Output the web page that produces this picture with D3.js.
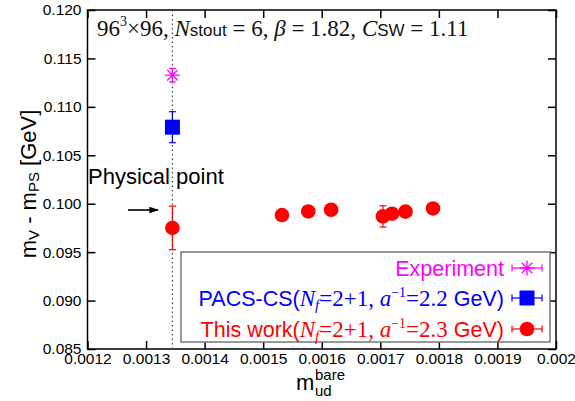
<!DOCTYPE html>
<html>
<head>
<meta charset="utf-8">
<script src="https://cdn.jsdelivr.net/npm/d3@7"></script>
<style>
  body { margin: 0; background: #fff; }
  svg { display: block; }
</style>
</head>
<body>
<div id="chart"></div>
<script>
// values
const thisWorkX = [0.001345, 0.001532, 0.001577, 0.001616, 0.0017045, 0.00172, 0.001743, 0.00179];
const thisWorkY = [0.0975, 0.09883, 0.0992, 0.09938, 0.09869, 0.09897, 0.09918, 0.09951];
const thisWorkErr = [0.00225, 0.0002, 0.0002, 0.0002, 0.0011, 0.0002, 0.0002, 0.0002];

const pacsX = [0.001345];
const pacsY = [0.1079];
const pacsErr = [0.0016];

const expX = [0.001345];
const expY = [0.11327];
const expErr = [0.0007];

const physicalPoint = 0.001345;

const xTicks = [0.0012, 0.0013, 0.0014, 0.0015, 0.0016, 0.0017, 0.0018, 0.0019, 0.002];
const xTickLabels = ["0.0012", "0.0013", "0.0014", "0.0015", "0.0016", "0.0017", "0.0018", "0.0019", "0.002"];
const yTicks = [0.085, 0.09, 0.095, 0.1, 0.105, 0.11, 0.115, 0.12];
const yTickLabels = ["0.085", "0.090", "0.095", "0.100", "0.105", "0.110", "0.115", "0.120"];

const SANS = "'Liberation Sans', Arial, sans-serif";
const SERIF = "'Liberation Serif', 'Times New Roman', serif";

const width = 575;
const height = 401;
const margin = { top: 10, right: 19, bottom: 52, left: 87.5 };

const svg = d3
  .select("#chart")
  .append("svg")
  .attr("width", width)
  .attr("height", height);

const x = d3.scaleLinear().domain([0.0012, 0.002]).range([margin.left, width - margin.right]);
const y = d3.scaleLinear().domain([0.085, 0.12]).range([height - margin.bottom, margin.top]);

const x0 = x.range()[0], x1 = x.range()[1];
const y0 = y.range()[0], y1 = y.range()[1];

// axes with inward ticks on all four sides
const tickLen = 8;
const bottomAxis = svg
  .append("g")
  .attr("transform", "translate(0," + y0 + ")")
  .call(d3.axisBottom(x).tickValues(xTicks).tickSizeInner(-tickLen).tickSizeOuter(0)
    .tickFormat((d, i) => xTickLabels[i]));
const topAxis = svg
  .append("g")
  .attr("transform", "translate(0," + y1 + ")")
  .call(d3.axisTop(x).tickValues(xTicks).tickSizeInner(-tickLen).tickSizeOuter(0).tickFormat(""));
const leftAxis = svg
  .append("g")
  .attr("transform", "translate(" + x0 + ",0)")
  .call(d3.axisLeft(y).tickValues(yTicks).tickSizeInner(-tickLen).tickSizeOuter(0)
    .tickFormat((d, i) => yTickLabels[i]));
const rightAxis = svg
  .append("g")
  .attr("transform", "translate(" + x1 + ",0)")
  .call(d3.axisRight(y).tickValues(yTicks).tickSizeInner(-tickLen).tickSizeOuter(0).tickFormat(""));

[bottomAxis, topAxis, leftAxis, rightAxis].forEach((g) => {
  g.select(".domain").remove();
  g.selectAll(".tick line").attr("stroke", "#000").attr("stroke-width", 1.5);
  g.selectAll(".tick text").attr("fill", "#000").style("font-family", SANS).style("font-size", "15.5px");
});
bottomAxis.selectAll(".tick text").attr("y", 4).attr("dy", "0.71em");
leftAxis.selectAll(".tick text").attr("x", -6);

// frame
svg
  .append("rect")
  .attr("x", x0)
  .attr("y", y1)
  .attr("width", x1 - x0)
  .attr("height", y0 - y1)
  .attr("fill", "none")
  .attr("stroke", "#000")
  .attr("stroke-width", 1.5);

// physical point dotted line
svg
  .append("line")
  .attr("x1", x(physicalPoint))
  .attr("x2", x(physicalPoint))
  .attr("y1", y1)
  .attr("y2", y0)
  .attr("stroke", "#444")
  .attr("stroke-width", 1.2)
  .attr("stroke-dasharray", "1.5,3");

// title line
const title = svg
  .append("text")
  .attr("x", 97)
  .attr("y", 36)
  .style("font-family", SERIF)
  .style("font-size", "23px")
  .attr("fill", "#111");
title.append("tspan").text("96");
title.append("tspan").attr("dy", -10).style("font-size", "14px").text("3");
title.append("tspan").attr("dy", 10).text("\u00d796, ");
title.append("tspan").style("font-style", "italic").text("N");
title.append("tspan").style("font-family", SANS).style("font-size", "17px").text("stout");
title.append("tspan").text(" = 6, ");
title.append("tspan").style("font-style", "italic").text("\u03b2");
title.append("tspan").text(" = 1.82, ");
title.append("tspan").style("font-style", "italic").text("C");
title.append("tspan").style("font-family", SANS).style("font-size", "17px").text("SW");
title.append("tspan").text(" = 1.11");

// "Physical point" annotation
svg
  .append("text")
  .attr("x", 88)
  .attr("y", 184)
  .style("font-family", SANS)
  .style("font-size", "22px")
  .attr("fill", "#000")
  .text("Physical point");

svg
  .append("defs")
  .append("marker")
  .attr("id", "arrow")
  .attr("viewBox", "0 0 10 10")
  .attr("refX", 9)
  .attr("refY", 5)
  .attr("markerWidth", 6)
  .attr("markerHeight", 6)
  .attr("orient", "auto")
  .append("path")
  .attr("d", "M0,1.5 L10,5 L0,8.5 Z")
  .attr("fill", "#000");
svg
  .append("line")
  .attr("x1", 128)
  .attr("x2", 158)
  .attr("y1", 210)
  .attr("y2", 210)
  .attr("stroke", "#000")
  .attr("stroke-width", 1.6)
  .attr("marker-end", "url(#arrow)");

// helpers
function errorBars(g, xs, ys, errs, color) {
  const cap = 3.5;
  xs.forEach((xv, i) => {
    const cx = x(xv);
    const top = y(ys[i] + errs[i]);
    const bot = y(ys[i] - errs[i]);
    g.append("line").attr("x1", cx).attr("x2", cx).attr("y1", top).attr("y2", bot)
      .attr("stroke", color).attr("stroke-width", 1.2);
    [top, bot].forEach((yy) => {
      g.append("line").attr("x1", cx - cap).attr("x2", cx + cap).attr("y1", yy).attr("y2", yy)
        .attr("stroke", color).attr("stroke-width", 1.2);
    });
  });
}

function starPath(r) {
  const d = r * Math.SQRT1_2;
  return "M" + -r + ",0L" + r + ",0M0," + -r + "L0," + r +
    "M" + -d + "," + -d + "L" + d + "," + d + "M" + -d + "," + d + "L" + d + "," + -d;
}

const marks = svg.append("g");

// experiment
errorBars(marks, expX, expY, expErr, "#ff00ff");
marks
  .selectAll(".exp")
  .data(expX)
  .enter()
  .append("path")
  .attr("class", "exp")
  .attr("transform", (d, i) => "translate(" + x(d) + "," + y(expY[i]) + ")")
  .attr("d", starPath(7.5))
  .attr("stroke", "#ff00ff")
  .attr("stroke-width", 1.3)
  .attr("fill", "none");

// PACS-CS
errorBars(marks, pacsX, pacsY, pacsErr, "#0000ff");
marks
  .selectAll(".pacs")
  .data(pacsX)
  .enter()
  .append("rect")
  .attr("class", "pacs")
  .attr("x", (d) => x(d) - 7.5)
  .attr("y", (d, i) => y(pacsY[i]) - 7.5)
  .attr("width", 15)
  .attr("height", 15)
  .attr("fill", "#0000ff");

// this work
errorBars(marks, thisWorkX, thisWorkY, thisWorkErr, "#ff0000");
marks
  .selectAll(".work")
  .data(thisWorkX)
  .enter()
  .append("circle")
  .attr("class", "work")
  .attr("cx", (d) => x(d))
  .attr("cy", (d, i) => y(thisWorkY[i]))
  .attr("r", 7.3)
  .attr("fill", "#ff0000");

// legend
const legend = svg.append("g");
legend
  .append("rect")
  .attr("x", 181)
  .attr("y", 252)
  .attr("width", 369)
  .attr("height", 90)
  .attr("fill", "#fff")
  .attr("stroke", "#777")
  .attr("stroke-width", 1.5);

const legendRows = [
  { color: "#ff00ff", y: 268, shape: "star" },
  { color: "#0000ff", y: 298, shape: "square" },
  { color: "#ff0000", y: 329, shape: "circle" }
];
const textEnd = 504;
const markX = 527;

legendRows.forEach((row, i) => {
  const t = legend
    .append("text")
    .attr("x", textEnd)
    .attr("y", row.y + 7.5)
    .attr("text-anchor", "end")
    .attr("fill", row.color)
    .style("font-family", SANS)
    .style("font-size", "21.5px");
  if (i === 0) {
    t.text("Experiment");
  } else {
    t.append("tspan").text(i === 1 ? "PACS-CS(" : "This work(");
    t.append("tspan").style("font-family", SERIF).style("font-style", "italic").style("font-size", "23px").text("N");
    t.append("tspan").style("font-family", SERIF).style("font-style", "italic").style("font-size", "15px")
      .attr("dy", 4).text("f");
    t.append("tspan").style("font-family", SERIF).style("font-size", "23px").attr("dy", -4).text("=2+1, ");
    t.append("tspan").style("font-family", SERIF).style("font-style", "italic").style("font-size", "23px").text("a");
    t.append("tspan").style("font-family", SERIF).style("font-size", "14px").attr("dy", -9).text("\u22121");
    t.append("tspan").style("font-family", SERIF).style("font-size", "23px").attr("dy", 9).text(i === 1 ? "=2.2" : "=2.3");
    t.append("tspan").text(" GeV)");
  }
  // horizontal error bar
  legend.append("line").attr("x1", markX - 15).attr("x2", markX + 15).attr("y1", row.y).attr("y2", row.y)
    .attr("stroke", row.color).attr("stroke-width", 1.2);
  [markX - 15, markX + 15].forEach((xx) => {
    legend.append("line").attr("x1", xx).attr("x2", xx).attr("y1", row.y - 3.5).attr("y2", row.y + 3.5)
      .attr("stroke", row.color).attr("stroke-width", 1.2);
  });
  if (row.shape === "star") {
    legend.append("path").attr("transform", "translate(" + markX + "," + row.y + ")")
      .attr("d", starPath(7.5)).attr("stroke", row.color).attr("stroke-width", 1.3).attr("fill", "none");
  } else if (row.shape === "square") {
    legend.append("rect").attr("x", markX - 7.5).attr("y", row.y - 7.5).attr("width", 15).attr("height", 15)
      .attr("fill", row.color);
  } else {
    legend.append("circle").attr("cx", markX).attr("cy", row.y).attr("r", 7.3).attr("fill", row.color);
  }
});

// axis titles
const yLabel = svg
  .append("text")
  .attr("transform", "translate(36,184) rotate(-90)")
  .attr("text-anchor", "middle")
  .attr("fill", "#000")
  .style("font-family", SANS)
  .style("font-size", "22px");
yLabel.append("tspan").text("m");
yLabel.append("tspan").style("font-size", "15px").attr("dy", 3).text("V");
yLabel.append("tspan").attr("dy", -3).text(" - m");
yLabel.append("tspan").style("font-size", "15px").attr("dy", 3).text("PS");
yLabel.append("tspan").attr("dy", -3).text(" [GeV]");

const xLabel = svg
  .append("text")
  .attr("x", 296)
  .attr("y", 390)
  .attr("fill", "#000")
  .style("font-family", SANS)
  .style("font-size", "22px");
xLabel.append("tspan").text("m");
const xSup = svg
  .append("text")
  .attr("x", 315)
  .attr("y", 380)
  .attr("fill", "#000")
  .style("font-family", SANS)
  .style("font-size", "15px")
  .text("bare");
const xSub = svg
  .append("text")
  .attr("x", 315)
  .attr("y", 396)
  .attr("fill", "#000")
  .style("font-family", SANS)
  .style("font-size", "15px")
  .text("ud");
</script>
</body>
</html>
